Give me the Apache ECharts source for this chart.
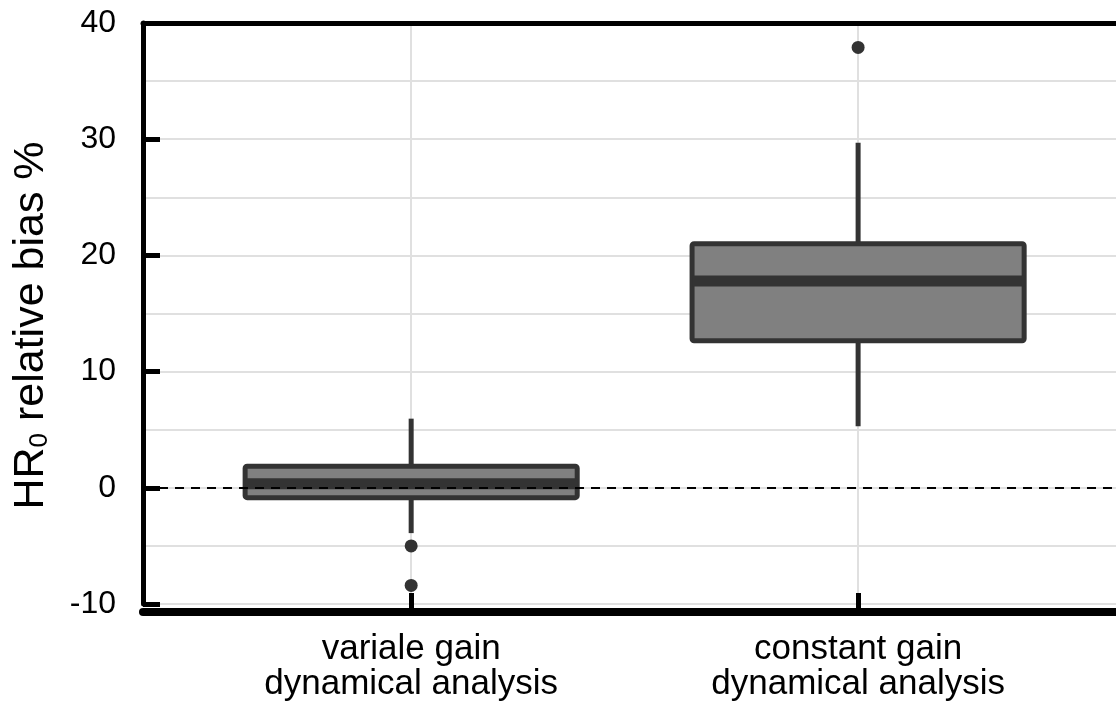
<!DOCTYPE html>
<html>
<head>
<meta charset="utf-8">
<script src="https://cdn.jsdelivr.net/npm/echarts@6/dist/echarts.min.js"></script>
<style>
  html, body { margin: 0; padding: 0; background: #fff; }
  #chart { width: 1116px; height: 708px; }
</style>
</head>
<body>
<div id="chart"></div>
<script>
// ---- data ----
const categories = ['variale gain\ndynamical analysis', 'constant gain\ndynamical analysis'];
const categoryPos = [1, 2];
const whiskerLow = [-3.9, 5.3];
const q1 = [-0.85, 12.65];
const median = [0.35, 17.8];
const q3 = [1.85, 21.0];
const whiskerHigh = [5.95, 29.7];
const outlierCat = [1, 1, 2];
const outlierVal = [-5.0, -8.4, 37.9];
const yTicks = [-10, 0, 10, 20, 30, 40];

// ---- build series data ----
const boxData = categoryPos.map((x, i) => [x, whiskerLow[i], q1[i], median[i], q3[i], whiskerHigh[i]]);
const outlierData = outlierCat.map((c, i) => [c, outlierVal[i]]);

const FONT = 'Liberation Sans';
const DARK = '#333333';
const FILL = '#808080';
const GRID = '#e0e0e0';
const BOX_W = 0.743;
const X_MIN = 0.4, X_MAX = 2.577;

const chart = echarts.init(document.getElementById('chart'), null, { renderer: 'canvas' });

const option = {
  animation: false,
  backgroundColor: '#ffffff',
  grid: { left: 143, right: 0, top: 23, bottom: 104, containLabel: false },
  xAxis: [
    {
      type: 'value', position: 'bottom', min: X_MIN, max: X_MAX, offset: 8,
      axisLine: { show: true, onZero: false, lineStyle: { color: '#000', width: 8 } },
      axisTick: { show: true, inside: true, length: 19, customValues: categoryPos, lineStyle: { color: '#000', width: 5 } },
      axisLabel: {
        show: true, customValues: categoryPos, margin: 20,
        fontFamily: FONT, fontSize: 35, lineHeight: 35, color: '#000',
        formatter: v => categories[categoryPos.indexOf(Math.round(v))] || ''
      },
      splitLine: { show: true, lineStyle: { color: GRID, width: 2 } }
    },
    {
      type: 'value', position: 'top', min: X_MIN, max: X_MAX,
      axisLine: { show: true, onZero: false, lineStyle: { color: '#000', width: 5 } },
      axisTick: { show: false }, axisLabel: { show: false }, splitLine: { show: false }
    }
  ],
  yAxis: {
    type: 'value', min: yTicks[0], max: yTicks[yTicks.length - 1], interval: 10,
    name: 'HR{sub|0} relative bias %',
    nameLocation: 'middle', nameGap: 90, nameRotate: 90,
    nameTextStyle: {
      fontFamily: FONT, fontSize: 43, color: '#000', lineHeight: 43,
      padding: [0, 24, 0, 0],
      rich: { sub: { fontFamily: FONT, fontSize: 26, lineHeight: 12, verticalAlign: 'bottom', color: '#000' } }
    },
    axisLine: { show: true, onZero: false, lineStyle: { color: '#000', width: 5 } },
    axisTick: { show: true, inside: true, length: 17, lineStyle: { color: '#000', width: 5 } },
    axisLabel: { fontFamily: FONT, fontSize: 32, color: '#000', margin: 27 },
    splitLine: { show: true, lineStyle: { color: GRID, width: 2 } },
    minorTick: { show: false, splitNumber: 2 },
    minorSplitLine: { show: true, lineStyle: { color: GRID, width: 2 } }
  },
  series: [
    {
      type: 'custom', xAxisIndex: 0, z: 2,
      data: boxData,
      encode: { x: 0, y: [1, 2, 3, 4, 5] },
      renderItem: function (params, api) {
        const x = api.value(0);
        const lo = api.coord([x, api.value(1)]);
        const b1 = api.coord([x, api.value(2)]);
        const md = api.coord([x, api.value(3)]);
        const b3 = api.coord([x, api.value(4)]);
        const hi = api.coord([x, api.value(5)]);
        const w = api.size([BOX_W, 0])[0];
        return {
          type: 'group',
          children: [
            { type: 'line', shape: { x1: lo[0], y1: lo[1], x2: hi[0], y2: hi[1] }, style: { stroke: DARK, lineWidth: 5 } },
            { type: 'rect', shape: { x: b3[0] - w / 2, y: b3[1], width: w, height: b1[1] - b3[1], r: 2 }, style: { fill: FILL, stroke: DARK, lineWidth: 5 } },
            { type: 'line', shape: { x1: md[0] - w / 2, y1: md[1], x2: md[0] + w / 2, y2: md[1] }, style: { stroke: DARK, lineWidth: 11 } }
          ]
        };
      }
    },
    {
      type: 'scatter', xAxisIndex: 0, z: 3,
      data: outlierData, symbol: 'circle', symbolSize: 13,
      itemStyle: { color: DARK, opacity: 1 }
    },
    {
      type: 'line', xAxisIndex: 0, z: 5, data: [], silent: true,
      markLine: {
        silent: true, symbol: ['none', 'none'], label: { show: false },
        lineStyle: { color: '#000', width: 2, type: [9, 7] },
        data: [{ yAxis: 0 }]
      }
    }
  ]
};

chart.setOption(option);
</script>
</body>
</html>
